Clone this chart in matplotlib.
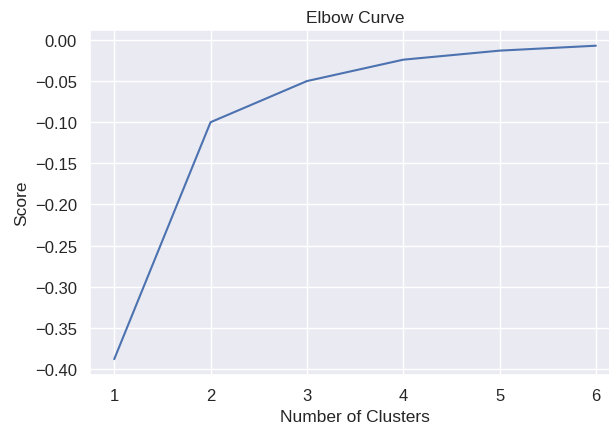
import matplotlib.pyplot as plt
import seaborn as sns

sns.set_theme()
plt.rcParams['font.family'] = ['Liberation Sans', 'DejaVu Sans']

clusters = [1, 2, 3, 4, 5, 6]
scores = [-0.388, -0.100, -0.050, -0.024, -0.013, -0.007]

fig, ax = plt.subplots(figsize=(6.09, 4.31), dpi=100)
fig.subplots_adjust(left=0.148, right=1.018, top=0.928, bottom=0.128)

ax.plot(clusters, scores)
ax.set_title("Elbow Curve", fontsize=12.5)
ax.set_xlabel("Number of Clusters", fontsize=12.5)
ax.set_ylabel("Score", fontsize=12.5)
ax.tick_params(labelsize=12)

fig.savefig("out.png", dpi=100)
